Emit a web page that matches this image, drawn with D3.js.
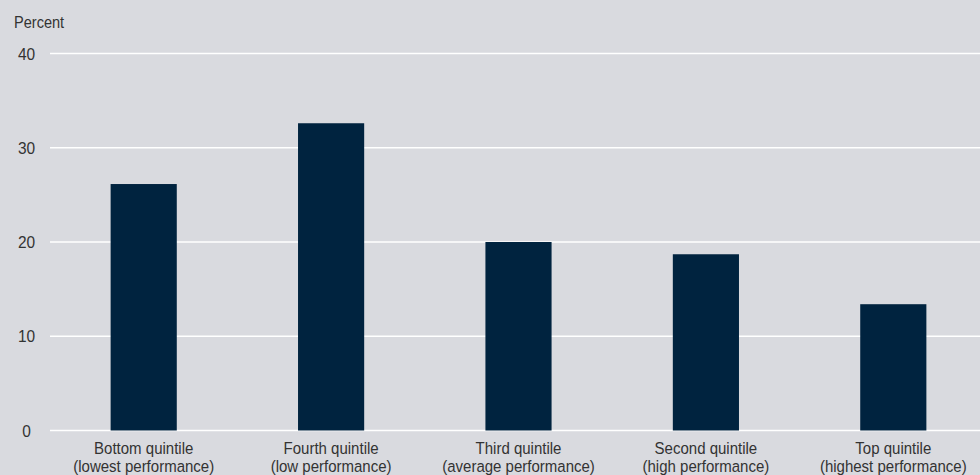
<!DOCTYPE html>
<html><head><meta charset="utf-8">
<script src="https://cdn.jsdelivr.net/npm/d3@7"></script>
<style>
html,body{margin:0;padding:0;background:#d9dadf;}
svg{display:block;}
text{font-family:"Liberation Sans",Arial,sans-serif;fill:#333;}
</style></head>
<body>
<script>
const categories = [
  ["Bottom quintile", "(lowest performance)"],
  ["Fourth quintile", "(low performance)"],
  ["Third quintile", "(average performance)"],
  ["Second quintile", "(high performance)"],
  ["Top quintile", "(highest performance)"]
];
const values = [26.15, 32.6, 20.0, 18.7, 13.4];
const yTicks = [0, 10, 20, 30, 40];
const yTitle = "Percent";

const W = 980, H = 475;
const sx = 0.91; // condensed look
const svg = d3.select("body").append("svg").attr("width", W).attr("height", H);
svg.append("rect").attr("width", W).attr("height", H).attr("fill", "#d9dadf");

const x = d3.scaleBand().domain(d3.range(categories.length))
  .range([50, 987]).paddingInner(0.647).paddingOuter(0.3235);
const y = d3.scaleLinear().domain([0, 40]).range([430.5, 53.5]);

// gridlines
svg.append("g").selectAll("line").data(yTicks).join("line")
  .attr("x1", 50).attr("x2", W)
  .attr("y1", d => y(d)).attr("y2", d => y(d))
  .attr("stroke", "#ffffff").attr("stroke-width", 1.6);

// y tick labels
svg.append("g").selectAll("text").data(yTicks).join("text")
  .attr("transform", d => `translate(26.5,${y(d)}) scale(${sx},1)`)
  .attr("dy", "0.36em")
  .attr("text-anchor", "middle").attr("font-size", 17)
  .text(d => d);

svg.append("text").attr("transform", `translate(14,28) scale(${sx},1)`)
  .attr("font-size", 16).text(yTitle);

// bars
svg.append("g").selectAll("rect").data(values).join("rect")
  .attr("x", (d, i) => x(i)).attr("width", x.bandwidth())
  .attr("y", d => y(d)).attr("height", d => y(0) - y(d))
  .attr("fill", "#00233f");

// category labels
const lab = svg.append("g").selectAll("text").data(categories).join("text")
  .attr("text-anchor", "middle").attr("font-size", 16.5)
  .attr("transform", (d, i) => `translate(${x(i) + x.bandwidth() / 2},0) scale(${sx},1)`);
lab.append("tspan").attr("x", 0).attr("y", 454).text(d => d[0]);
lab.append("tspan").attr("x", 0).attr("y", 472).text(d => d[1]);
</script>
</body></html>
